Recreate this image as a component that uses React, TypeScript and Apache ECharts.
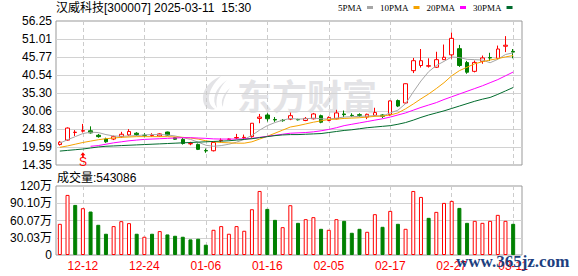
import { useEffect, useRef } from 'react';
import * as echarts from 'echarts';

const titleText = '汉威科技[300007] 2025-03-11  15:30';
const volumeLabel = '成交量';

const dates = [
  '12-09', '12-10', '12-11', '12-12', '12-13', '12-16', '12-17', '12-18', '12-19', '12-20',
  '12-23', '12-24', '12-25', '12-26', '12-27', '12-30', '12-31', '01-02', '01-03', '01-06',
  '01-07', '01-08', '01-09', '01-10', '01-13', '01-14', '01-15', '01-16', '01-17', '01-20',
  '01-21', '01-22', '01-23', '01-24', '01-27', '02-05', '02-06', '02-07', '02-10', '02-11',
  '02-12', '02-13', '02-14', '02-17', '02-18', '02-19', '02-20', '02-21', '02-24', '02-25',
  '02-26', '02-27', '02-28', '03-03', '03-04', '03-05', '03-06', '03-07', '03-10', '03-11',
];

const xTickLabels = ['12-12', '12-24', '01-06', '01-16', '02-05', '02-17', '02-27', '03-11'];
const priceTicks = ['14.35', '19.59', '24.83', '30.06', '35.30', '40.54', '45.77', '51.01', '56.25'];
const volTicks = ['0', '30.03万', '60.07万', '90.10万', '120万'];
const priceMin = 14.35;
const priceMax = 56.25;
const volMax = 1201300;

// [open, close, low, high]
const candles = [
  [20.3, 21.0, 20.0, 21.3], [21.6, 25.1, 21.4, 25.3], [23.8, 23.9, 22.8, 24.5], [24.2, 24.35, 23.8, 26.3],
  [24.3, 23.7, 23.5, 25.6], [23.0, 22.6, 22.3, 23.4], [21.9, 21.1, 20.8, 22.3], [21.9, 22.6, 21.6, 22.9],
  [22.6, 23.3, 22.3, 24.0], [23.1, 24.1, 22.8, 24.8], [23.6, 23.2, 22.8, 23.9], [23.0, 22.95, 22.4, 23.6],
  [22.9, 23.0, 22.5, 23.6], [22.8, 23.4, 22.6, 23.6], [23.95, 23.05, 22.9, 24.05], [22.3, 21.85, 21.7, 22.5],
  [21.8, 20.6, 20.3, 22.2], [20.5, 20.6, 20.1, 21.1], [20.35, 18.9, 18.7, 20.6], [18.55, 18.45, 17.9, 19.15],
  [18.5, 20.9, 18.3, 21.2], [21.4, 21.55, 20.9, 22.1], [21.8, 21.9, 21.6, 22.1], [22.2, 22.35, 21.9, 23.4],
  [22.25, 22.4, 21.9, 23.2], [22.6, 26.5, 22.3, 26.55], [27.9, 28.3, 26.5, 29.2], [28.9, 27.8, 27.0, 29.4],
  [27.6, 27.45, 26.9, 28.3], [27.35, 27.25, 26.95, 27.7], [27.7, 28.7, 27.4, 29.6], [27.6, 27.5, 27.3, 27.8],
  [27.3, 27.9, 27.1, 28.3], [27.8, 29.2, 27.6, 29.5], [28.7, 26.8, 26.5, 29.0], [27.3, 28.2, 27.1, 28.5],
  [27.8, 29.5, 27.6, 30.4], [29.2, 29.0, 28.3, 30.2], [28.8, 28.7, 28.3, 29.4], [29.0, 28.8, 28.3, 29.4],
  [28.3, 29.1, 27.7, 29.3], [28.8, 29.6, 28.5, 31.0], [28.9, 28.5, 28.0, 29.1], [29.0, 33.0, 28.6, 33.1],
  [33.1, 31.5, 31.2, 33.4], [32.4, 38.0, 32.1, 38.1], [41.8, 44.7, 41.1, 45.5], [43.3, 44.7, 42.7, 48.1],
  [43.1, 43.25, 42.7, 45.4], [42.8, 45.0, 42.6, 47.3], [45.0, 45.7, 44.9, 49.4], [46.4, 51.2, 45.3, 52.9],
  [48.2, 43.3, 42.9, 49.3], [44.15, 41.35, 40.9, 44.65], [41.6, 44.2, 41.3, 44.75], [44.5, 45.5, 43.8, 46.2],
  [45.6, 45.5, 44.6, 47.0], [45.4, 48.1, 45.0, 49.1], [48.9, 49.2, 47.2, 51.85], [47.4, 47.2, 45.4, 48.1],
];

const ma5 = [
  20.7, 21.7, 22.6, 23.5, 23.9, 23.8, 23.2, 22.8, 22.7, 22.8,
  22.9, 23.1, 23.2, 23.2, 23.1, 22.8, 22.3, 21.8, 21.0, 20.1,
  19.8, 20.0, 20.4, 21.0, 21.8, 23.0, 24.5, 25.8, 26.7, 27.4,
  27.9, 27.7, 27.8, 28.0, 27.8, 27.7, 28.0, 28.3, 28.4, 28.5,
  28.6, 28.7, 28.6, 29.5, 30.3, 32.2, 35.6, 38.8, 41.5, 43.3,
  44.5, 45.8, 45.6, 45.1, 45.0, 44.9, 44.1, 45.1, 46.5, 47.0,
];
const ma10 = [
  19.5, 19.9, 20.4, 20.9, 21.3, 21.7, 22.0, 22.2, 22.4, 22.5,
  22.6, 22.6, 22.6, 22.6, 22.6, 22.5, 22.4, 22.2, 21.9, 21.4,
  21.1, 20.9, 20.8, 20.7, 20.7, 21.1, 21.9, 22.7, 23.6, 24.5,
  25.4, 25.8, 26.3, 26.8, 27.2, 27.6, 27.7, 27.9, 28.0, 28.1,
  28.3, 28.5, 28.6, 28.9, 29.5, 30.7, 32.1, 33.6, 35.0, 36.6,
  38.3, 40.3, 41.8, 42.8, 43.8, 44.4, 44.9, 45.3, 45.8, 46.2,
];
const ma20 = [
  null, null, null, null, 19.8, 20.0, 20.4, 20.8, 21.1, 21.4,
  21.6, 21.8, 21.9, 22.0, 22.1, 22.2, 22.3, 22.3, 22.2, 22.1,
  21.95, 21.9, 21.9, 21.9, 21.95, 22.1, 22.4, 22.7, 23.0, 23.3,
  23.6, 23.7, 23.8, 24.0, 24.3, 24.7, 25.2, 25.8, 26.2, 26.6,
  27.0, 27.4, 27.8, 28.3, 28.9, 29.5, 30.3, 31.1, 31.8, 32.5,
  33.4, 34.2, 35.0, 35.8, 36.6, 37.4, 38.3, 39.2, 40.3, 41.4,
];
const ma30 = [
  18.4, 18.6, 18.8, 19.0, 19.3, 19.6, 19.8, 19.9, 20.0, 20.1,
  20.2, 20.3, 20.4, 20.5, 20.6, 20.7, 20.8, 20.9, 21.0, 21.1,
  21.2, 21.3, 21.4, 21.6, 21.8, 22.0, 22.3, 22.6, 22.9, 23.1,
  23.2, 23.2, 23.3, 23.4, 23.5, 23.8, 24.1, 24.4, 24.6, 24.9,
  25.2, 25.4, 25.6, 25.8, 26.2, 26.7, 27.4, 28.2, 28.9, 29.5,
  30.1, 30.8, 31.5, 32.2, 32.9, 33.5, 34.0, 34.9, 35.9, 36.9,
];

const volumes = [
  543000, 1046000, 872000, 815000, 757000, 526000, 370000, 503000, 589000, 555000,
  370000, 318000, 370000, 416000, 358000, 335000, 318000, 272000, 283000, 179000,
  439000, 503000, 370000, 503000, 422000, 797000, 1115000, 803000, 612000, 485000,
  867000, 560000, 624000, 659000, 456000, 439000, 624000, 595000, 387000, 456000,
  404000, 711000, 491000, 768000, 543000, 456000, 1115000, 1011000, 647000, 751000,
  907000, 942000, 820000, 560000, 595000, 560000, 595000, 699000, 595000, 543086,
];
// 1 = red (rising), 0 = green (falling), as coloured in the volume pane
const volUp = [
  1, 1, 0, 1, 0, 0, 0, 1, 1, 1,
  0, 1, 0, 1, 0, 0, 0, 0, 0, 0,
  1, 1, 1, 1, 1, 1, 1, 0, 0, 1,
  1, 0, 1, 1, 0, 1, 1, 0, 0, 0,
  1, 1, 0, 1, 0, 1, 1, 1, 0, 1,
  1, 1, 0, 0, 1, 1, 1, 1, 1, 0,
];

const signalDate = '12-12';
const signalPrice = 17.3;

const UP = '#ff0000';
const DOWN = '#008000';
const SANS = '"Liberation Sans", Arial, "Noto Sans CJK SC", sans-serif';

const LOGO_D =
  'M22 0 C8 6 0 18 6 30 C9 34 14 34 16 33 C8 28 6 16 22 0 Z ' +
  'M28 4 C16 12 12 24 18 32 C16 22 20 12 28 4 Z ' +
  'M31 12 C24 18 21 26 24 31 C24 24 27 18 31 12 Z';

export default function App() {
  const ref = useRef<HTMLDivElement>(null);

  useEffect(() => {
    if (!ref.current) return;
    echarts.graphic.registerShape('dfcfLogo', echarts.graphic.extendPath(LOGO_D, {}));
    const chart = echarts.init(ref.current, undefined, { renderer: 'svg' });
    const showTick = (_i: number, v: string) => xTickLabels.includes(v);
    const vSplit = {
      show: true,
      interval: showTick,
      alignWithLabel: true,
      lineStyle: { color: '#cccccc', type: [4, 3], width: 1 },
    };
    const hSplit = {
      show: true,
      showMinLine: false,
      showMaxLine: false,
      lineStyle: { color: '#d2d2d2', width: 1 },
    };
    const lineSeries = (name: string, data: (number | null)[], color: string) => ({
      name,
      type: 'line',
      xAxisIndex: 1,
      yAxisIndex: 1,
      data,
      symbol: 'none',
      color,
      itemStyle: { color },
      lineStyle: { color, width: 1 },
      connectNulls: false,
      z: 3,
    });

    chart.setOption({
      animation: false,
      backgroundColor: '#ffffff',
      title: [
        {
          text: titleText,
          left: 56,
          top: 2,
          padding: 0,
          textStyle: { fontSize: 12, fontWeight: 'normal', color: '#000', fontFamily: SANS },
        },
        {
          text: `${volumeLabel}:${volumes[volumes.length - 1]}`,
          left: 57,
          top: 172,
          padding: 0,
          textStyle: { fontSize: 12, fontWeight: 'normal', color: '#000', fontFamily: SANS },
        },
      ],
      legend: {
        data: ['5PMA', '10PMA', '20PMA', '30PMA'],
        left: 338,
        top: 3,
        padding: 0,
        align: 'right',
        icon: 'rect',
        itemWidth: 6,
        itemHeight: 3,
        itemGap: 7,
        selectedMode: false,
        textStyle: { fontFamily: '"Liberation Serif", serif', fontSize: 9, color: '#000' },
      },
      grid: [
        { left: 56, top: 21, width: 466, height: 144, show: true, borderColor: '#999', borderWidth: 1 },
        { left: 56, top: 21, width: 461, height: 144 },
        { left: 56, top: 186, width: 466, height: 69, show: true, borderColor: '#999', borderWidth: 1 },
        { left: 56, top: 186, width: 461, height: 69 },
      ],
      xAxis: [
        { gridIndex: 0, type: 'value', show: false, min: 0, max: 1 },
        {
          gridIndex: 1,
          type: 'category',
          data: dates,
          boundaryGap: true,
          axisLine: { show: false },
          axisTick: { show: false },
          axisLabel: { show: false },
          splitLine: vSplit,
        },
        { gridIndex: 2, type: 'value', show: false, min: 0, max: 1 },
        {
          gridIndex: 3,
          type: 'category',
          data: dates,
          boundaryGap: true,
          axisLine: { show: false },
          axisTick: { show: false },
          axisLabel: { show: true, interval: showTick, color: UP, fontSize: 12, margin: 5, fontFamily: SANS },
          splitLine: vSplit,
        },
      ],
      yAxis: [
        {
          gridIndex: 0,
          type: 'value',
          min: 0,
          max: priceTicks.length - 1,
          interval: 1,
          axisLine: { show: false },
          axisTick: { show: false },
          axisLabel: {
            formatter: (v: number) => priceTicks[Math.round(v)],
            color: '#000',
            fontSize: 12,
            margin: 4,
            fontFamily: SANS,
          },
          splitLine: hSplit,
        },
        { gridIndex: 1, type: 'value', min: priceMin, max: priceMax, show: false },
        {
          gridIndex: 2,
          type: 'value',
          min: 0,
          max: volTicks.length - 1,
          interval: 1,
          axisLine: { show: false },
          axisTick: { show: false },
          axisLabel: {
            formatter: (v: number) => volTicks[Math.round(v)],
            color: '#000',
            fontSize: 12,
            margin: 4,
            fontFamily: SANS,
          },
          splitLine: hSplit,
        },
        { gridIndex: 3, type: 'value', min: 0, max: volMax, show: false },
      ],
      series: [
        {
          name: 'K',
          type: 'candlestick',
          xAxisIndex: 1,
          yAxisIndex: 1,
          data: candles,
          barWidth: 4,
          itemStyle: {
            color: '#ffffff',
            color0: DOWN,
            borderColor: UP,
            borderColor0: DOWN,
            borderWidth: 1,
          },
          markPoint: {
            symbol: 'path://M3 0 L6 3.5 L4 3.5 L4 6 L2 6 L2 3.5 L0 3.5 Z',
            symbolSize: [5, 5],
            itemStyle: { color: UP },
            label: {
              show: true,
              formatter: 'S',
              position: 'bottom',
              distance: -1,
              color: UP,
              fontSize: 12,
              fontFamily: SANS,
            },
            data: [{ coord: [signalDate, signalPrice] }],
          },
        },
        lineSeries('5PMA', ma5, '#a6a6a6'),
        lineSeries('10PMA', ma10, '#f5a300'),
        lineSeries('20PMA', ma20, '#ff00ff'),
        lineSeries('30PMA', ma30, '#006b2d'),
        {
          name: 'VOL',
          type: 'bar',
          xAxisIndex: 3,
          yAxisIndex: 3,
          barWidth: 4,
          data: volumes.map((v, i) => ({
            value: v,
            itemStyle: volUp[i]
              ? { color: '#ffffff', borderColor: UP, borderWidth: 1 }
              : { color: DOWN, borderColor: DOWN, borderWidth: 1 },
          })),
        },
      ],
      graphic: [
        {
          type: 'dfcfLogo',
          x: 199,
          y: 76,
          scaleX: 1,
          scaleY: 1,
          silent: true,
          z: 0,
          style: { fill: '#e3e3e6' },
        },
        {
          type: 'text',
          x: 237,
          y: 94,
          silent: true,
          z: 0,
          style: {
            text: '东方财富',
            fontSize: 35,
            fontWeight: 'bold',
            fontFamily: '"Noto Sans CJK SC", sans-serif',
            fill: '#e3e3e6',
            verticalAlign: 'middle',
          },
        },
        {
          type: 'text',
          x: 456,
          y: 261,
          silent: true,
          z: 100,
          style: {
            text: 'www.365jz.com',
            fontSize: 17,
            fontWeight: 'bold',
            fontFamily: '"Liberation Serif", serif',
            fill: '#1d3f7f',
            verticalAlign: 'middle',
          },
        },
      ],
    });
    return () => chart.dispose();
  }, []);

  return (
    <div
      ref={ref}
      style={{ position: 'fixed', left: 0, top: 0, width: 578, height: 276, background: '#fff' }}
    />
  );
}
